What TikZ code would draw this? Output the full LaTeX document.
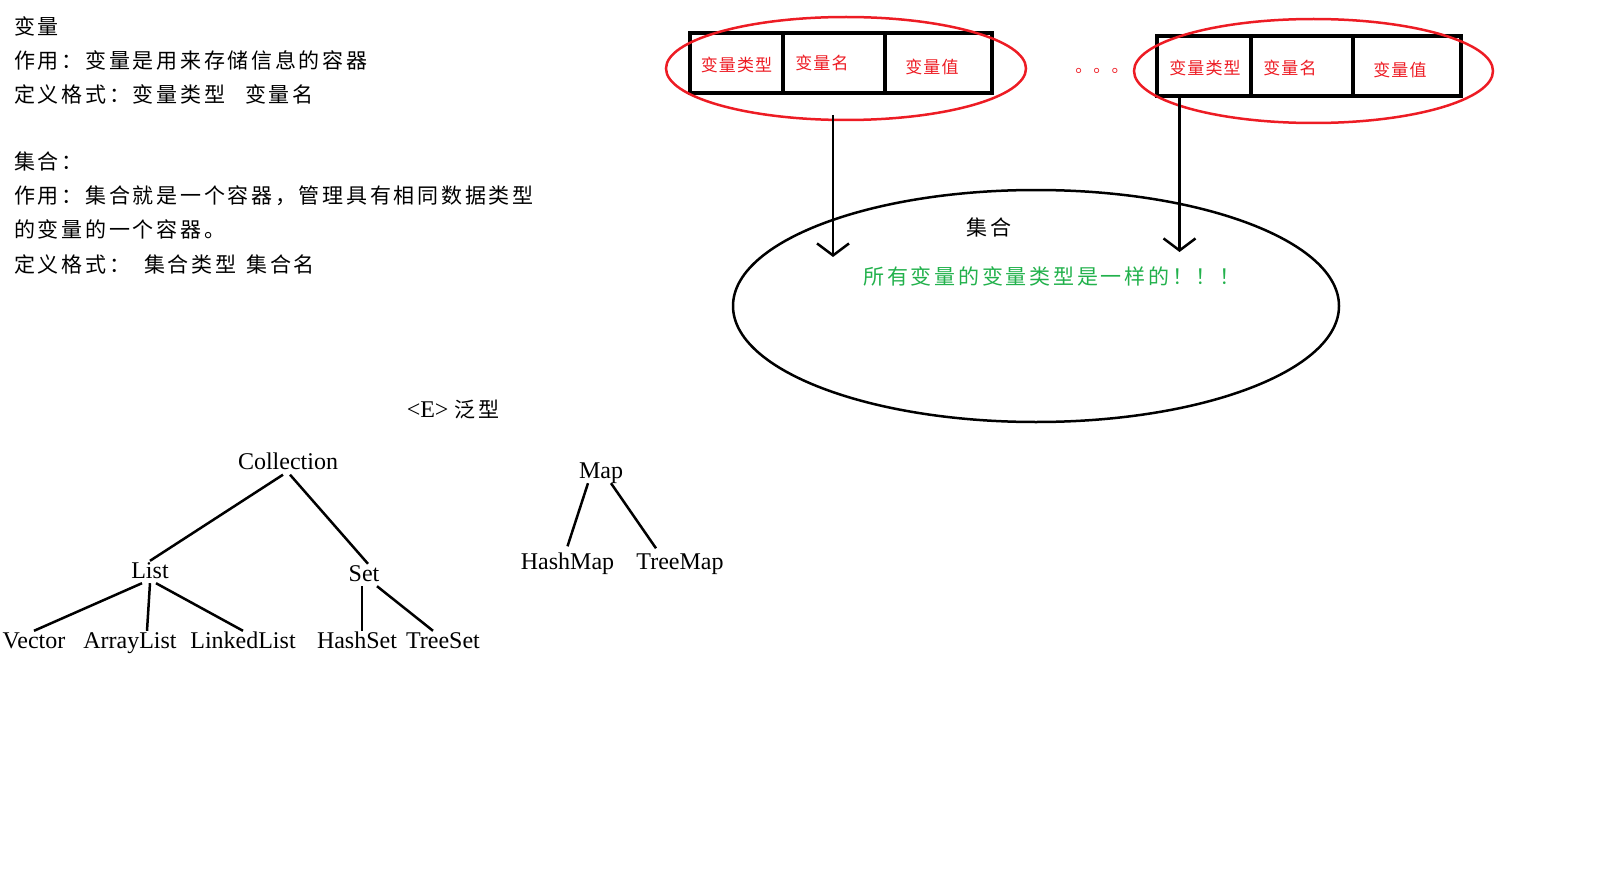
\documentclass[tikz,border=0pt]{standalone}
\usepackage{fontspec}
\setmainfont{Liberation Serif}
\newfontfamily\notefont[LetterSpace=13]{Noto Sans CJK SC}
\newfontfamily\cellfont[LetterSpace=6]{Noto Sans CJK SC}
\usetikzlibrary{positioning,shapes.geometric,arrows.meta}
\definecolor{paintred}{RGB}{237,28,36}
\definecolor{paintgreen}{RGB}{34,177,76}
\begin{document}
\begin{tikzpicture}[x=1pt,y=-1pt,
  note/.style={anchor=base west,inner sep=0pt,font=\notefont\fontsize{21pt}{21pt}\selectfont},
  cell/.style={draw,line width=4pt,minimum width=#1,minimum height=60pt,inner sep=0pt,outer sep=0pt},
  celltext/.style={inner sep=0pt,text=paintred,font=\cellfont\fontsize{17pt}{17pt}\selectfont},
  ring/.style={ellipse,draw=paintred,line width=2.5pt,inner sep=0pt},
  flow/.style={line width=2.5pt,-{Straight Barb[length=12pt,width=32pt]}},
  tree/.style={inner sep=0pt,text height=17pt,text depth=5pt,font=\fontsize{24pt}{24pt}\selectfont},
  edge/.style={line width=2.5pt}]
\useasboundingbox (0,0) rectangle (1620,880);

% notes on the left
\foreach \y/\t [count=\i] in {34.5/变量, 68.5/作用：变量是用来存储信息的容器,
  102.5/定义格式：变量类型\hspace{20pt}变量名, 169.5/集合：,
  203.5/作用：集合就是一个容器，管理具有相同数据类型, 237.5/的变量的一个容器。,
  272/定义格式：\hspace{14pt}集合类型\hspace{10pt}集合名}
  \node[note] (note\i) at (14,\y) {\t};

% variable records
\node[cell=93pt] (c11) at (736.5,63) {};
\node[cell=102pt,right=0pt of c11] (c12) {};
\node[cell=107pt,right=0pt of c12] (c13) {};
\node[cell=94pt] (c21) at (1204,66.5) {};
\node[cell=102pt,right=0pt of c21] (c22) {};
\node[cell=108pt,right=0pt of c22] (c23) {};
\node[celltext] (t11) at ([shift={(0,2)}]c11) {变量类型};
\node[celltext] (t12) at ([shift={(-12,0)}]c12) {变量名};
\node[celltext] (t13) at ([shift={(-6.5,4)}]c13) {变量值};
\node[celltext] (t21) at ([shift={(1,1.5)}]c21) {变量类型};
\node[celltext] (t22) at ([shift={(-12,1.5)}]c22) {变量名};
\node[celltext] (t23) at ([shift={(-7,3.5)}]c23) {变量值};
\node[ring,minimum width=360pt,minimum height=103pt] (r1) at (846,68.5) {};
\node[ring,minimum width=359pt,minimum height=104pt] (r2) at (1313.5,71) {};
\node[celltext] (dots) at (1102,71) {。。。};

% the collection
\node[ellipse,draw,line width=2.5pt,minimum width=606pt,minimum height=232pt] (jihe) at (1036,306) {};
\node[inner sep=0pt,font=\notefont\fontsize{21pt}{21pt}\selectfont] (jihename) at (989,227) {集合};
\node[inner sep=0pt,text=paintgreen,font=\notefont\fontsize{21pt}{21pt}\selectfont] (same) at (1052,276) {所有变量的变量类型是一样的！！！};
\coordinate (a1top) at (833,115);
\coordinate (a1tip) at (833,257);
\coordinate (a2tip) at (1179.5,252);
\draw[flow] (a1top) -- (a1tip);
\draw[flow] (c21.south -| a2tip) -- (a2tip);

% class tree
\node[tree] (generic) at (453,411) {<E> {\notefont\fontsize{21pt}{21pt}\selectfont 泛型}};
\node[tree] (coll) at (288,463.5) {Collection};
\node[tree] (list) at (150,572) {List};
\node[tree] (set) at (364,575) {Set};
\node[tree] (vector) at (34,642) {Vector};
\node[tree] (arraylist) at (130,642) {ArrayList};
\node[tree] (linkedlist) at (243,642) {LinkedList};
\node[tree] (hashset) at (357,642) {HashSet};
\node[tree] (treeset) at (443,642) {TreeSet};
\node[tree] (map) at (601,472) {Map};
\node[tree] (hashmap) at (567.5,563.5) {HashMap};
\node[tree] (treemap) at (680,563.5) {TreeMap};
\draw[edge] ([xshift=-5pt]coll.south) -- (list.north);
\draw[edge] ([xshift=2pt]coll.south) -- ([xshift=4pt]set.north);
\draw[edge] ([xshift=-8pt]list.south) -- (vector.north);
\draw[edge] (list.south) -- ([xshift=17pt]arraylist.north);
\draw[edge] ([xshift=6pt]list.south) -- (linkedlist.north);
\draw[edge] ([xshift=-2pt]set.south) -- ([xshift=5pt]hashset.north);
\draw[edge] ([xshift=13pt]set.south) -- ([xshift=-10pt]treeset.north);
\draw[edge] ([xshift=-13pt]map.south) -- ([yshift=6pt]hashmap.north);
\draw[edge] ([xshift=10pt]map.south) -- ([xshift=-24pt,yshift=4pt]treemap.north);
\end{tikzpicture}
\end{document}
